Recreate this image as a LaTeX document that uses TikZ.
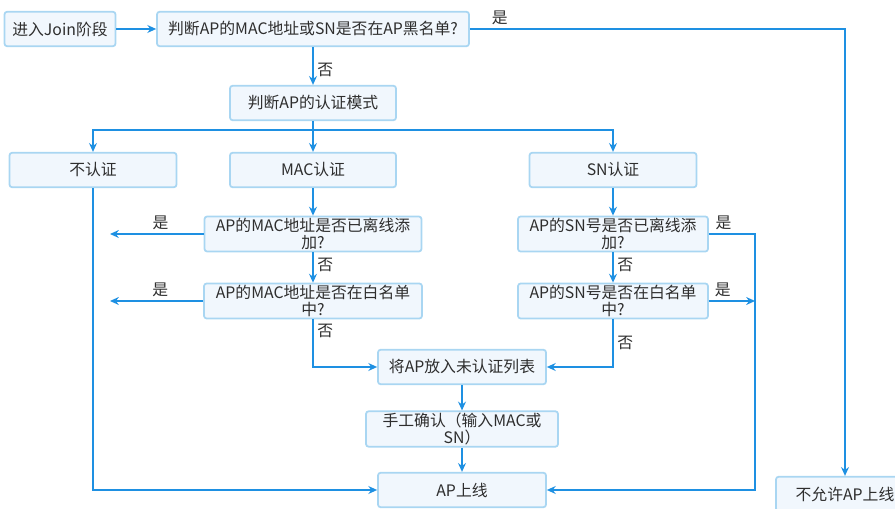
\documentclass[tikz,border=0pt]{standalone}
\usepackage{fontspec}
\setmainfont{Noto Sans CJK SC}
\usetikzlibrary{arrows.meta}
\definecolor{flowblue}{HTML}{1E90E2}
\definecolor{boxline}{HTML}{A9D6F2}
\definecolor{boxfill}{HTML}{F1F7FD}
\definecolor{txtgray}{HTML}{2E2E2E}
\tikzset{stepbox/.style={draw=boxline,fill=boxfill,line width=1pt,
    rounded corners=1.5pt,minimum height=0.69cm,inner sep=1pt,
    align=center,text=txtgray,font=\fontsize{9}{9.6}\selectfont}}
\tikzset{flowline/.style={draw=flowblue,line width=1.1pt,
    -{Stealth[length=5pt,width=4.5pt]}}}
\tikzset{yesno/.style={text=txtgray,font=\fontsize{9}{10}\selectfont,
    inner sep=2pt}}

\begin{document}
\begin{tikzpicture}[x=0.02cm,y=-0.02cm]

\useasboundingbox (0,0) rectangle (895,509);

\pgfmathsetmacro{\xL}{93}
\pgfmathsetmacro{\xM}{313}
\pgfmathsetmacro{\xR}{613}
\pgfmathsetmacro{\xD}{462}

% 上部
\node[stepbox,minimum width=2.22cm] (join) at (60,29) {进入Join阶段};
\node[stepbox,minimum width=6.24cm] (black) at (\xM,29)
    {判断AP的MAC地址或SN是否在AP黑名单?};
\node[stepbox,minimum width=3.32cm] (mode) at (\xM,103) {判断AP的认证模式};

% 认证模式
\node[stepbox,minimum width=3.34cm] (noauth) at (\xL,170) {不认证};
\node[stepbox,minimum width=3.32cm] (macauth) at (\xM,170) {MAC认证};
\node[stepbox,minimum width=3.34cm] (snauth) at (\xR,170) {SN认证};

% MAC认证
\node[stepbox,minimum width=4.34cm] (macoff) at (\xM,234)
    {AP的MAC地址是否已离线添\\加?};
\node[stepbox,minimum width=4.36cm] (macwl) at (\xM,301)
    {AP的MAC地址是否在白名单\\中?};

% SN认证
\node[stepbox,minimum width=3.8cm] (snoff) at (\xR,234)
    {AP的SN号是否已离线添\\加?};
\node[stepbox,minimum width=3.8cm] (snwl) at (\xR,301)
    {AP的SN号是否在白名单\\中?};

% 下部
\node[stepbox,minimum width=3.36cm] (pending) at (\xD,367) {将AP放入未认证列表};
\node[stepbox,minimum width=3.84cm] (manual) at (\xD,429)
    {手工确认（输入MAC或\\SN）};
\node[stepbox,minimum width=3.36cm] (online) at (\xD,490) {AP上线};
\node[stepbox,minimum width=2.76cm] (deny) at (845,494) {不允许AP上线};

\coordinate (fork) at (\xM,130);
\coordinate (yesend) at (110,0);
\coordinate (snbus) at (755,301);

% 黑名单
\draw[flowline] (join) -- (black);
\draw[flowline] (black.east) -| node[yesno,pos=0.04,above]{是} (deny.north);
\draw[flowline] (black) -- node[yesno,pos=0.6,right]{否} (mode);

% 分支
\draw[flowline] (mode) -- (fork) -| (noauth);
\draw[flowline] (fork) -| (snauth);
\draw[flowline] (fork) -- (macauth);

% MAC认证
\draw[flowline] (macauth) -- (macoff);
\draw[flowline] (macoff.west) -- node[yesno,pos=0.46,above]{是}
    (macoff.west -| yesend);
\draw[flowline] (macoff) -- node[yesno,pos=0.4,right]{否} (macwl);
\draw[flowline] (macwl.west) -- node[yesno,pos=0.46,above]{是}
    (macwl.west -| yesend);
\draw[flowline] (macwl) |- node[yesno,pos=0.12,right]{否} (pending);

% 不认证
\draw[flowline] (noauth) |- (online);

% SN认证
\draw[flowline] (snauth) -- (snoff);
\draw[flowline] (snoff) -- node[yesno,pos=0.4,right]{否} (snwl);
\draw[flowline] (snoff.east) -| node[yesno,pos=0.16,above]{是} (snbus)
    |- (online);
\draw[flowline] (snwl.east) -- node[yesno,pos=0.3,above]{是} (snbus);
\draw[flowline] (snwl) |- node[yesno,pos=0.25,right]{否} (pending);

% 手工确认
\draw[flowline] (pending) -- (manual);
\draw[flowline] (manual) -- (online);

\end{tikzpicture}
\end{document}
